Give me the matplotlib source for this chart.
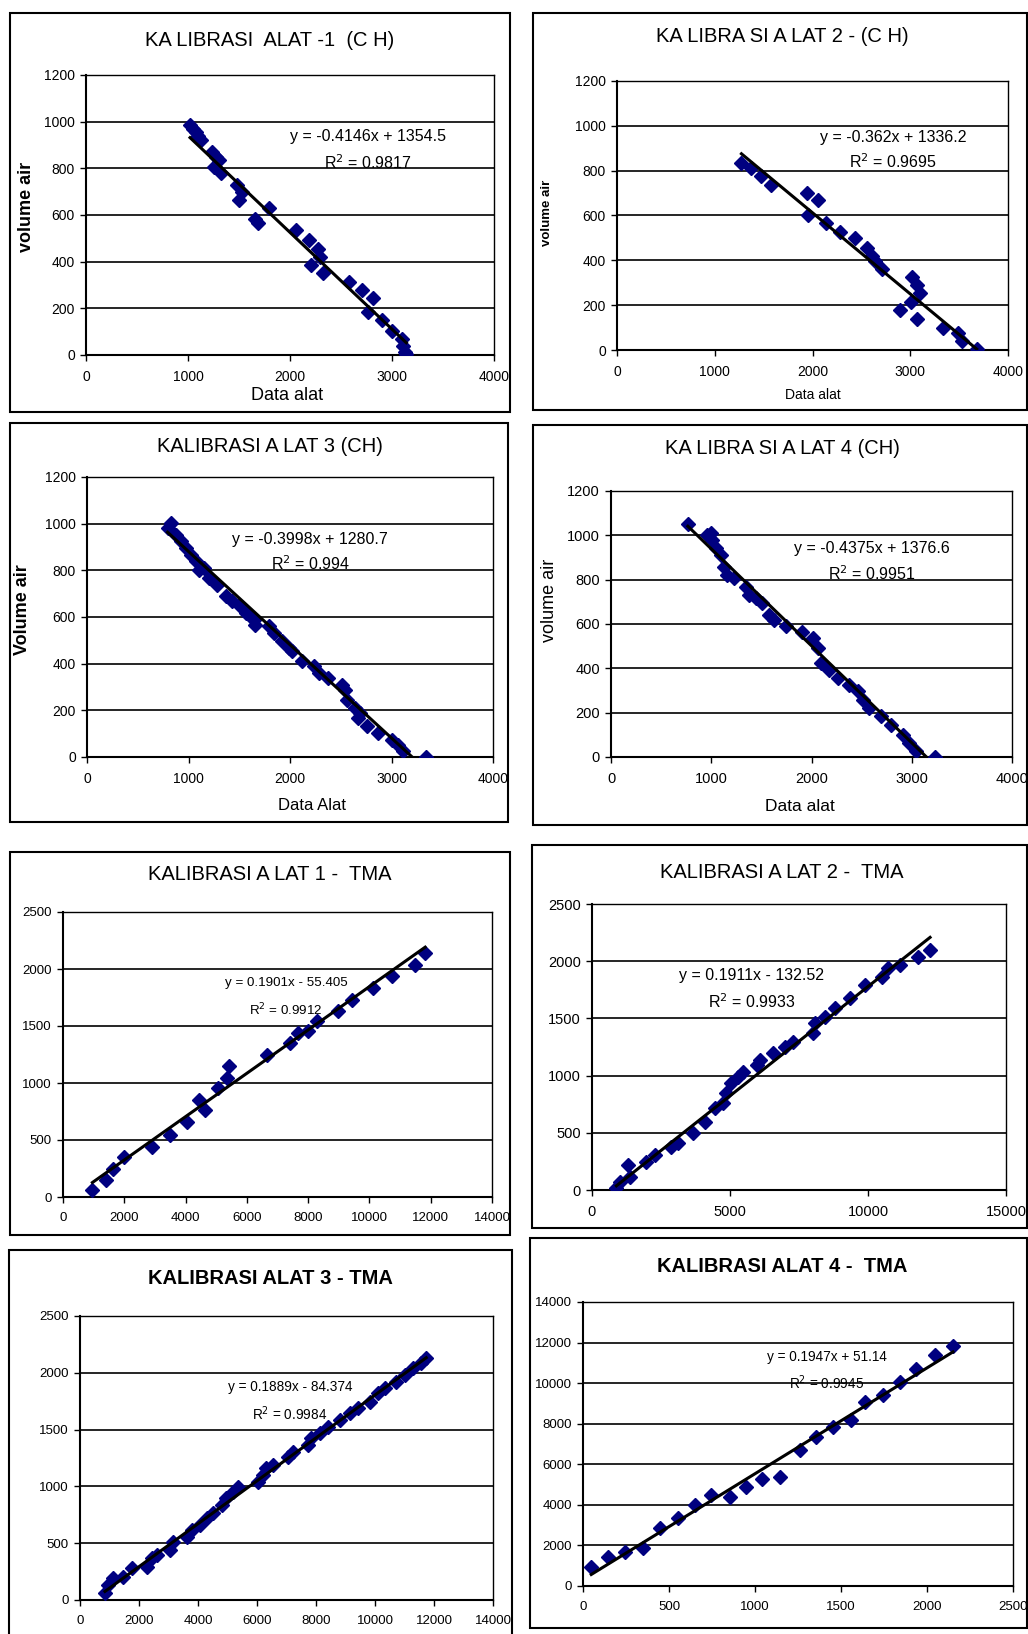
import numpy as np
import matplotlib
matplotlib.use("Agg")
import matplotlib.pyplot as plt
from matplotlib.patches import Rectangle

plt.rcParams['font.family'] = ['Liberation Sans', 'DejaVu Sans']

W, H = 1028, 1634

# ---- data ----
ch1_x = [1020, 1050, 1080, 1100, 1130, 1240, 1270, 1300, 1250, 1320, 1480, 1530, 1500, 1660, 1690,
         1790, 2060, 2190, 2270, 2290, 2210, 2320, 2580, 2710, 2810, 2760, 2900, 3000, 3100, 3110, 3130, 3140]
ch1_y = [985, 970, 955, 940, 920, 870, 850, 835, 805, 780, 730, 700, 665, 585, 565,
         630, 535, 495, 455, 420, 385, 350, 315, 280, 245, 185, 150, 105, 70, 40, 15, 5]

ch2_x = [1273, 1375, 1478, 1580, 1939, 2058, 1956, 2143, 2280, 2433, 2553, 2604, 2638, 2706,
         3014, 3065, 3099, 3010, 2894, 3065, 3338, 3492, 3526, 3680]
ch2_y = [835, 810, 775, 735, 700, 670, 600, 565, 525, 500, 455, 420, 395, 360,
         326, 288, 255, 215, 180, 140, 100, 76, 40, 5]

ch3_x = [794, 827, 876, 925, 974, 1023, 1072, 1105, 1154, 1203, 1284, 1366, 1431, 1497, 1562, 1644,
         1660, 1791, 1840, 1922, 1987, 2020, 2118, 2232, 2281, 2379, 2510, 2542, 2559, 2641, 2690,
         2673, 2755, 2869, 3000, 3065, 3114, 3343]
ch3_y = [981, 1003, 953, 924, 896, 867, 839, 803, 810, 767, 739, 689, 667, 653, 617, 589,
         567, 560, 531, 496, 467, 453, 410, 389, 360, 339, 310, 289, 246, 210, 189,
         167, 131, 103, 74, 53, 24, 0]

ch4_x = [767, 960, 1010, 993, 1043, 1093, 1127, 1160, 1227, 1343, 1377, 1443, 1510, 1577, 1627,
         1743, 1910, 2010, 2060, 2093, 2177, 2260, 2377, 2460, 2510, 2577, 2693, 2793, 2910, 2977,
         3043, 3227]
ch4_y = [1050, 1002, 979, 1009, 941, 911, 859, 821, 806, 769, 731, 716, 694, 641, 619,
         589, 566, 536, 491, 423, 393, 356, 326, 296, 258, 221, 183, 146, 101, 63,
         26, 0]

tma1_x = [959, 1394, 1634, 1983, 2919, 3486, 4031, 4444, 4630, 5065, 5338, 5425, 6645, 7407,
          7680, 8007, 8279, 8987, 9423, 10131, 10730, 11492, 11819]
tma1_y = [59, 147, 249, 352, 440, 543, 660, 850, 762, 953, 1041, 1150, 1246, 1349,
          1437, 1452, 1540, 1628, 1730, 1833, 1935, 2038, 2141]

tma2_x = [883, 1004, 1306, 1366, 1971, 2273, 2878, 3120, 3664, 4087, 4450, 4752, 4873, 5054, 5296,
          5477, 5961, 6082, 6566, 6989, 7291, 8017, 8077, 8440, 8803, 9347, 9891, 10496, 10738,
          11161, 11826, 12249]
tma2_y = [15, 73, 219, 117, 248, 306, 379, 408, 496, 598, 714, 758, 845, 933, 991,
          1035, 1093, 1137, 1195, 1254, 1297, 1370, 1458, 1516, 1589, 1676, 1793, 1866, 1939,
          1968, 2041, 2099]

tma3_x = [847, 959, 1129, 1467, 1749, 2257, 2427, 2596, 3047, 3160, 3612, 3781, 4063, 4289, 4515,
          4797, 4966, 5192, 5361, 6038, 6208, 6321, 6546, 7054, 7223, 7731, 7844, 8126, 8409, 8804,
          9142, 9424, 9819, 10102, 10327, 10722, 11005, 11287, 11569, 11738]
tma3_y = [59, 132, 191, 205, 279, 293, 367, 396, 440, 513, 557, 616, 660, 718, 762,
          836, 894, 953, 997, 1041, 1100, 1158, 1188, 1261, 1305, 1364, 1422, 1466, 1525, 1584,
          1642, 1686, 1745, 1818, 1862, 1921, 1979, 2038, 2082, 2126]

tma4_x = [48, 145, 242, 349, 446, 552, 649, 746, 853, 950, 1041, 1143, 1260, 1357, 1453, 1560,
          1638, 1744, 1841, 1938, 2048, 2151]
tma4_y = [951, 1443, 1689, 1852, 2836, 3328, 3984, 4475, 4393, 4885, 5295, 5377, 6689, 7344, 7836, 8164,
          9066, 9393, 10049, 10705, 11393, 11852]

# trendline coefficients as printed on the charts (slope, intercept)
trend_coef = [(-0.4146, 1354.5), (-0.362, 1336.2), (-0.3998, 1280.7), (-0.4375, 1376.6),
              (0.1901, -55.405), (0.1911, -132.52), (0.1889, -84.374), None]

titles = ["KA LIBRASI  ALAT -1  (C H)", "KA LIBRA SI A LAT 2 - (C H)",
          "KALIBRASI A LAT 3 (CH)", "KA LIBRA SI A LAT 4 (CH)",
          "KALIBRASI A LAT 1 -  TMA", "KALIBRASI A LAT 2 -  TMA",
          "KALIBRASI ALAT 3 - TMA", "KALIBRASI ALAT 4 -  TMA"]
equations = ["y = -0.4146x + 1354.5", "y = -0.362x + 1336.2", "y = -0.3998x + 1280.7",
             "y = -0.4375x + 1376.6", "y = 0.1901x - 55.405", "y = 0.1911x - 132.52",
             "y = 0.1889x - 84.374", "y = 0.1947x + 51.14"]
r2_labels = ["R$^2$ = 0.9817", "R$^2$ = 0.9695", "R$^2$ = 0.994", "R$^2$ = 0.9951",
             "R$^2$ = 0.9912", "R$^2$ = 0.9933", "R$^2$ = 0.9984", "R$^2$ = 0.9945"]

ch_yticks = [0, 200, 400, 600, 800, 1000, 1200]
ch_xticks = [0, 1000, 2000, 3000, 4000]
tma_yticks = [0, 500, 1000, 1500, 2000, 2500]
tma_xticks_a = [0, 2000, 4000, 6000, 8000, 10000, 12000, 14000]
tma_xticks_b = [0, 5000, 10000, 15000]
tma4_yticks = [0, 2000, 4000, 6000, 8000, 10000, 12000, 14000]
tma4_xticks = [0, 500, 1000, 1500, 2000, 2500]

# ---- layout (pixels in the 1028x1634 canvas) ----
panels = [
    # frame (l, t, r, b), axes (l, t, r, b), title (cx, cy, bold), eq (ax frac x, y1, y2, size)
    dict(x=ch1_x, y=ch1_y, frame=(10, 13, 510, 412), ax=(86, 75, 494, 355), title=(270, 40, False),
         eq=(0.69, 0.78, 0.686, 11.5), xt=ch_xticks, yt=ch_yticks, tsz=10,
         ylab=("volume air", 27, 207, 13, 'bold'), xlab=("Data alat", 287, 395, 13)),
    dict(x=ch2_x, y=ch2_y, frame=(533, 13, 1027, 410), ax=(617, 81, 1008, 350), title=(782, 37, False),
         eq=(0.706, 0.79, 0.70, 11.5), xt=ch_xticks, yt=ch_yticks, tsz=10,
         ylab=("volume air", 547, 213, 9.5, 'bold'), xlab=("Data alat", 813, 395, 10)),
    dict(x=ch3_x, y=ch3_y, frame=(10, 423, 508, 822), ax=(87, 477, 493, 757), title=(270, 447, False),
         eq=(0.55, 0.775, 0.69, 11.5), xt=ch_xticks, yt=ch_yticks, tsz=10,
         ylab=("Volume air", 23, 610, 13, 'bold'), xlab=("Data Alat", 312, 805, 12)),
    dict(x=ch4_x, y=ch4_y, frame=(533, 425, 1027, 825), ax=(611, 491, 1012, 757), title=(782, 448, False),
         eq=(0.65, 0.785, 0.69, 11.5), xt=ch_xticks, yt=ch_yticks, tsz=10.5,
         ylab=("volume air", 550, 600, 13, 'normal'), xlab=("Data alat", 800, 807, 12.5)),
    dict(x=tma1_x, y=tma1_y, frame=(10, 852, 510, 1235), ax=(63, 912, 492, 1197), title=(270, 875, False),
         eq=(0.52, 0.75, 0.656, 9.6), xt=tma_xticks_a, yt=tma_yticks, tsz=9.5, ylab=None, xlab=None),
    dict(x=tma2_x, y=tma2_y, frame=(532, 845, 1027, 1228), ax=(592, 904, 1006, 1190), title=(782, 872, False),
         eq=(0.386, 0.75, 0.657, 11.5), xt=tma_xticks_b, yt=tma_yticks, tsz=10.5, ylab=None, xlab=None),
    dict(x=tma3_x, y=tma3_y, frame=(9, 1250, 512, 1645), ax=(80, 1316, 493, 1600), title=(270, 1278, True),
         eq=(0.508, 0.75, 0.655, 9.8), xt=tma_xticks_a, yt=tma_yticks, tsz=9.5, ylab=None, xlab=None),
    dict(x=tma4_x, y=tma4_y, frame=(530, 1238, 1027, 1628), ax=(583, 1302, 1013, 1586), title=(782, 1267, True),
         eq=(0.567, 0.806, 0.715, 9.8), xt=tma4_xticks, yt=tma4_yticks, tsz=9.5, ylab=None, xlab=None),
]

fig = plt.figure(figsize=(W / 100, H / 100), dpi=100)


def fx(px):
    return px / W


def fy(py):
    return 1 - py / H


for i, p in enumerate(panels):
    l, t, r, b = p['frame']
    fig.add_artist(Rectangle((fx(l), fy(b)), fx(r - l), (b - t) / H, transform=fig.transFigure,
                             fill=False, ec='black', lw=1.5))

    al, at, ar, ab = p['ax']
    ax = fig.add_axes([fx(al), fy(ab), fx(ar - al), (ab - at) / H])
    xt, yt = p['xt'], p['yt']
    ax.set_xlim(xt[0], xt[-1])
    ax.set_ylim(yt[0], yt[-1])
    ax.set_xticks(xt)
    ax.set_yticks(yt)
    ax.tick_params(direction='out', length=4, width=1, labelsize=p['tsz'], pad=4, colors='black')
    ax.tick_params(axis='x', pad=7)
    for s in ax.spines.values():
        s.set_color('black')
        s.set_linewidth(1.0)
    ax.spines['left'].set_linewidth(1.5)
    ax.spines['bottom'].set_linewidth(1.5)
    ax.yaxis.grid(True, color='black', lw=1.2)
    ax.set_axisbelow(True)

    xs = np.array(p['x'], dtype=float)
    ys = np.array(p['y'], dtype=float)
    if trend_coef[i] is not None:
        m, c = trend_coef[i]
    else:
        m, c = np.polyfit(xs, ys, 1)
    lx = np.array([xs.min(), xs.max()])
    ax.plot(xs, ys, linestyle='none', marker='D', ms=7.5, color='#000080', zorder=3)
    ax.plot(lx, m * lx + c, color='black', lw=2.2, zorder=4)

    ex, ey1, ey2, esz = p['eq']
    ax.text(ex, ey1, equations[i], transform=ax.transAxes, ha='center', va='center', fontsize=esz, zorder=5)
    ax.text(ex, ey2, r2_labels[i], transform=ax.transAxes, ha='center', va='center', fontsize=esz, zorder=5)

    cx, cy, bold = p['title']
    fig.text(fx(cx), fy(cy), titles[i], ha='center', va='center',
             fontsize=14.5, fontweight='bold' if bold else 'normal')

    if p['ylab']:
        txt, x0, y0, sz, wt = p['ylab']
        fig.text(fx(x0), fy(y0), txt, rotation=90, ha='center', va='center', fontsize=sz, fontweight=wt)
    if p['xlab']:
        txt, x0, y0, sz = p['xlab']
        fig.text(fx(x0), fy(y0), txt, ha='center', va='center', fontsize=sz)

fig.savefig('out.png', dpi=100, facecolor='white')
